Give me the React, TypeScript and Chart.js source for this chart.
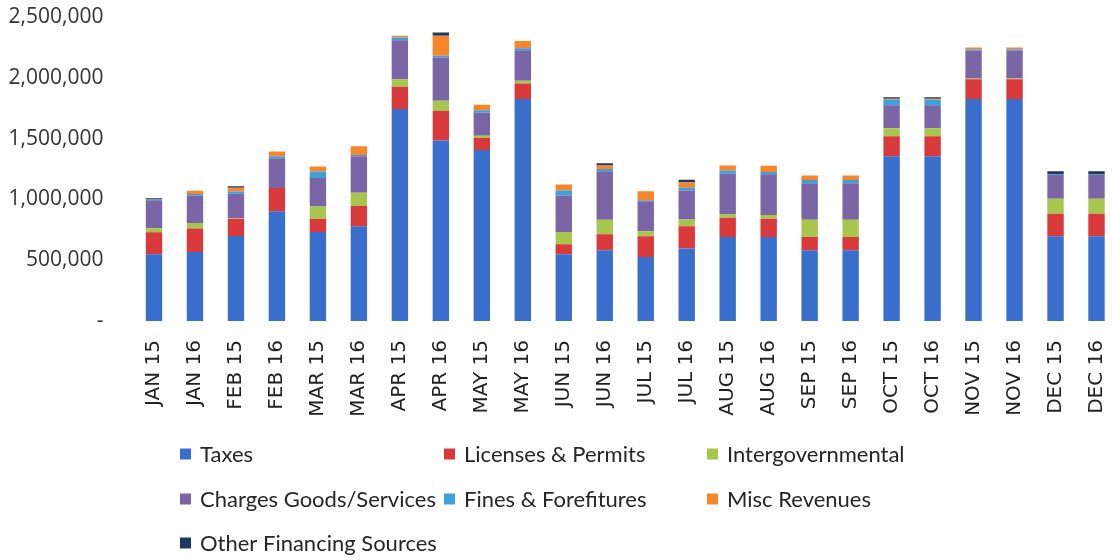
import React, { useEffect, useRef } from "react";
import { Chart, registerables } from "chart.js";

Chart.register(...registerables);

const months = [
  "JAN 15", "JAN 16", "FEB 15", "FEB 16", "MAR 15", "MAR 16",
  "APR 15", "APR 16", "MAY 15", "MAY 16", "JUN 15", "JUN 16",
  "JUL 15", "JUL 16", "AUG 15", "AUG 16", "SEP 15", "SEP 16",
  "OCT 15", "OCT 16", "NOV 15", "NOV 16", "DEC 15", "DEC 16",
];

const taxes = [549000, 568000, 699000, 902000, 732000, 779000, 1743000, 1484000, 1407000, 1825000, 549000, 582000, 527000, 596000, 691000, 691000, 582000, 582000, 1355000, 1355000, 1825000, 1825000, 697000, 697000];
const licenses = [180000, 192000, 142000, 191000, 109000, 166000, 183000, 246000, 98000, 128000, 82000, 131000, 170000, 183000, 159000, 150000, 109000, 109000, 165000, 165000, 164000, 164000, 186000, 186000];
const intergov = [33000, 46000, 5000, 0, 101000, 109000, 63000, 82000, 19000, 22000, 101000, 120000, 41000, 55000, 27000, 30000, 142000, 142000, 65000, 65000, 5000, 5000, 123000, 123000];
const charges = [230000, 227000, 200000, 246000, 235000, 300000, 320000, 355000, 191000, 252000, 300000, 399000, 246000, 240000, 333000, 335000, 300000, 300000, 190000, 190000, 231000, 231000, 194000, 194000];
const fines = [8000, 12000, 19000, 16000, 52000, 12000, 22000, 14000, 19000, 16000, 41000, 19000, 8000, 22000, 27000, 20000, 27000, 27000, 45000, 45000, 10000, 10000, 5000, 5000];
const misc = [0, 27000, 30000, 38000, 41000, 71000, 14000, 164000, 44000, 60000, 49000, 27000, 74000, 46000, 41000, 50000, 36000, 36000, 8000, 8000, 14000, 14000, 0, 0];
const other = [10000, 0, 13000, 0, 0, 0, 0, 27000, 0, 0, 0, 19000, 0, 19000, 0, 0, 0, 0, 12000, 12000, 0, 0, 27000, 27000];

const yTicks = [0, 500000, 1000000, 1500000, 2000000, 2500000];

const seriesNames = [
  "Taxes",
  "Licenses & Permits",
  "Intergovernmental",
  "Charges Goods/Services",
  "Fines & Forefitures",
  "Misc Revenues",
  "Other Financing Sources",
];
const seriesColors = ["#3A6ECD", "#D83A3C", "#A8C54E", "#7A66A6", "#3DA0DA", "#F7852A", "#1E3860"];

const legendPlugin = {
  id: "gridLegend",
  afterDraw(chart: any) {
    const ctx = chart.ctx;
    const colX = [180, 444, 707];
    const rowY = [454, 499, 543];
    ctx.save();
    ctx.font = "22px Lato";
    ctx.textBaseline = "middle";
    ctx.textAlign = "left";
    chart.data.datasets.forEach((ds: any, i: number) => {
      const c = i % 3;
      const r = Math.floor(i / 3);
      const x = colX[c];
      const y = rowY[r];
      ctx.fillStyle = ds.backgroundColor;
      ctx.fillRect(x, y - 5.5, 11, 11);
      ctx.fillStyle = "#262626";
      ctx.fillText(ds.label, x + 20, y + 1);
    });
    ctx.restore();
  },
};

export default function App() {
  const ref = useRef<HTMLCanvasElement>(null);
  useEffect(() => {
    const values = [taxes, licenses, intergov, charges, fines, misc, other];
    const chart = new Chart(ref.current as HTMLCanvasElement, {
      type: "bar",
      data: {
        labels: months,
        datasets: values.map((v, i) => ({
          label: seriesNames[i],
          data: v,
          backgroundColor: seriesColors[i],
          borderWidth: 0,
          categoryPercentage: 1,
          barPercentage: 0.4,
        })),
      },
      options: {
        responsive: false,
        animation: false,
        devicePixelRatio: 1,
        layout: { padding: { top: 17, right: 3, bottom: 139, left: 0 } },
        plugins: {
          legend: { display: false },
          tooltip: { enabled: false },
        },
        scales: {
          x: {
            stacked: true,
            grid: { display: false },
            border: { display: false },
            ticks: {
              autoSkip: false,
              maxRotation: 90,
              minRotation: 90,
              padding: 11,
              color: "#222222",
              font: { family: "'DejaVu Sans'", size: 20 },
            },
            afterFit(scale: any) {
              scale.height = 100;
              scale.paddingLeft = 0;
              scale.paddingRight = 0;
            },
          },
          y: {
            stacked: true,
            min: 0,
            max: 2500000,
            grid: { display: false },
            border: { display: false },
            afterBuildTicks(scale: any) {
              scale.ticks = yTicks.map((v) => ({ value: v }));
            },
            ticks: {
              padding: 22,
              color: "#333333",
              font: { family: "'Open Sans'", size: 21 },
              callback: (v: any) => (Number(v) === 0 ? "-" : Number(v).toLocaleString("en-US")),
            },
            afterFit(scale: any) {
              scale.width = 133.5;
              scale.paddingTop = 0;
              scale.paddingBottom = 0;
            },
          },
        },
      },
      plugins: [legendPlugin],
    });
    return () => chart.destroy();
  }, []);
  return (
    <div style={{ position: "absolute", left: 0, top: 0, width: 1112, height: 560, overflow: "hidden", background: "#fff" }}>
      <canvas ref={ref} width={1120} height={560} style={{ display: "block", width: 1120, height: 560 }} />
    </div>
  );
}
